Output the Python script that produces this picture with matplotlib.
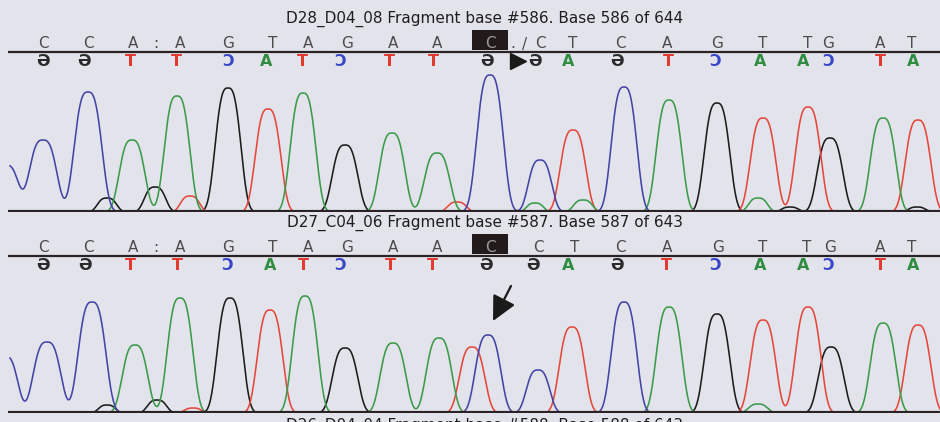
import numpy as np
import matplotlib
matplotlib.use("Agg")
import matplotlib.pyplot as plt
from matplotlib.patches import Rectangle

W, H = 940, 422
BG = "#e3e4eb"

# ---------------- data ----------------
titles = [
    "D28_D04_08 Fragment base #586. Base 586 of 644",
    "D27_C04_06 Fragment base #587. Base 587 of 643",
    "D26_D04_04 Fragment base #588. Base 588 of 643",
]

# base calls (top row) and their scan positions
calls_1 = ["C", "C", "A", ":", "A", "G", "T", "A", "G", "A", "A", "C", ".", "/",
           "C", "T", "C", "A", "G", "T", "T", "G", "A", "T"]
call_pos_1 = [43, 88, 133, 156, 180, 228, 273, 308, 347, 393, 437, 490, 513, 525,
              540, 573, 620, 667, 717, 763, 808, 828, 880, 912]
calls_2 = ["C", "C", "A", ":", "A", "G", "T", "A", "G", "A", "A", "C",
           "C", "T", "C", "A", "G", "T", "T", "G", "A", "T"]
call_pos_2 = [43, 88, 133, 156, 180, 228, 273, 308, 347, 393, 437, 490,
              538, 575, 620, 667, 718, 763, 807, 830, 880, 912]
highlight_1 = 11
highlight_2 = 11

# complementary strand (second row)
comp_1 = list("GGTTCATCTTGGAGTCAACTA")
comp_pos_1 = [43, 84, 130, 176, 228, 266, 302, 340, 389, 433, 487, 535, 568,
              617, 668, 715, 760, 803, 828, 880, 913]
comp_2 = list("GGTTCATCTTGGAGTCAACTA")
comp_pos_2 = [43, 85, 130, 177, 227, 270, 303, 340, 390, 432, 486, 533, 568,
              617, 666, 715, 760, 803, 828, 880, 913]

# trace peaks: centres, heights, widths for each dye channel
# sample 1
c_pos_1 = [6, 43, 88, 490, 540, 624]
c_ht_1 = [47, 72, 120, 137, 52, 125]
c_w_1 = [12, 13, 13, 12.5, 11, 12]
a_pos_1 = [132, 177, 303, 392, 437, 535, 583, 669, 758, 883]
a_ht_1 = [72, 116, 119, 79, 59, 9, 12, 112, 14, 94]
a_w_1 = [12, 12, 12, 12, 12, 8, 9, 12, 9, 12]
g_pos_1 = [107, 155, 228, 345, 717, 790, 830, 917]
g_ht_1 = [14, 25, 124, 67, 109, 5, 74, 5]
g_w_1 = [9, 10, 12, 12, 12, 8, 12, 8]
t_pos_1 = [190, 268, 457, 573, 763, 808, 918]
t_ht_1 = [16, 103, 10, 82, 94, 105, 92]
t_w_1 = [9, 12, 9, 12, 12, 12, 12]

# sample 2
c_pos_2 = [5, 47, 92, 488, 538, 624]
c_ht_2 = [57, 71, 111, 78, 43, 111]
c_w_2 = [12, 13, 13, 12, 11, 12]
a_pos_2 = [135, 180, 305, 393, 439, 669, 758, 883]
a_ht_2 = [68, 115, 117, 70, 75, 106, 9, 90]
a_w_2 = [12, 12, 12, 12, 12, 12, 9, 12]
g_pos_2 = [107, 157, 230, 345, 717, 831]
g_ht_2 = [8, 13, 115, 65, 99, 66]
g_w_2 = [8, 9, 12, 12, 12, 12]
t_pos_2 = [193, 270, 472, 572, 763, 808, 918]
t_ht_2 = [5, 103, 66, 86, 93, 106, 88]
t_w_2 = [8, 12, 12, 12, 12, 12, 12]

# ---------------- style ----------------
TRACE = {"C": "#4444a6", "A": "#3b9a4b", "G": "#1c1c1c", "T": "#e5473d"}
LETTER = {"C": "#3a46c8", "A": "#2f8c40", "G": "#2a2a2a", "T": "#e23a30"}
MIRROR = {"C": "\u0186", "A": "A", "G": "\u04D8", "T": "T"}
DARK = "#2a2224"

fig = plt.figure(figsize=(W / 100, H / 100), dpi=100, facecolor=BG)


def trace(x, centres, heights, widths):
    y = np.zeros_like(x)
    for c, h, w in zip(centres, heights, widths):
        y += h * np.exp(-0.5 * (np.abs(x - c) / w) ** 3)
    return y


def trace_axes(base_px, channels):
    ax = fig.add_axes([0, (H - base_px) / H, 1, 160 / H])
    ax.set_xlim(0, W)
    ax.set_ylim(0, 160)
    ax.axis("off")
    ax.patch.set_alpha(0)
    x = np.linspace(10, W, 2400)
    for base, (cen, hts, wds) in channels:
        ax.plot(x, trace(x, cen, hts, wds), color=TRACE[base], lw=1.15,
                solid_joinstyle="round", zorder=2)
    ax.hlines(0, 8, W, color=DARK, lw=3.0, zorder=5)
    return ax


trace_axes(212, [("G", (g_pos_1, g_ht_1, g_w_1)),
                 ("T", (t_pos_1, t_ht_1, t_w_1)),
                 ("A", (a_pos_1, a_ht_1, a_w_1)),
                 ("C", (c_pos_1, c_ht_1, c_w_1))])
trace_axes(413, [("G", (g_pos_2, g_ht_2, g_w_2)),
                 ("T", (t_pos_2, t_ht_2, t_w_2)),
                 ("A", (a_pos_2, a_ht_2, a_w_2)),
                 ("C", (c_pos_2, c_ht_2, c_w_2))])

# text / annotation layer in pixel units
ax = fig.add_axes([0, 0, 1, 1])
ax.set_xlim(0, W)
ax.set_ylim(H, 0)
ax.axis("off")
ax.patch.set_alpha(0)


def header(top, title, calls, call_pos, hi, comp, comp_pos):
    ax.text(485, top, title, ha="center", va="center", fontsize=11,
            color="#1e1e1e", family="DejaVu Sans")
    row = top + 25
    for i, (ch, px) in enumerate(zip(calls, call_pos)):
        col = "#4c4c4c"
        if i == hi:
            ax.add_patch(Rectangle((px - 18, row - 14), 36, 20,
                                   facecolor="#231a1b", edgecolor="none", zorder=3))
            col = "#9a9a9a"
        ax.text(px, row, ch, ha="center", va="center", fontsize=11,
                color=col, zorder=4)
    ax.hlines(row + 8, 8, W, color=DARK, lw=1.6, zorder=3)
    for ch, px in zip(comp, comp_pos):
        ax.text(px, row + 18, MIRROR[ch], ha="center", va="center", fontsize=11.5,
                fontweight="bold", color=LETTER[ch], zorder=4)


header(19, titles[0], calls_1, call_pos_1, highlight_1, comp_1, comp_pos_1)
header(223, titles[1], calls_2, call_pos_2, highlight_2, comp_2, comp_pos_2)
ax.text(485, 418, titles[2], ha="center", va="top", fontsize=11, color="#1e1e1e")

# marker in the first sample's complement row
ax.plot([518], [61], marker=">", ms=11, color="#1a1a1a", zorder=6)

# arrow pointing at the mixed peak in the second sample
ax.annotate("", xy=(493, 321), xytext=(511, 286),
            arrowprops=dict(arrowstyle="-|>,head_length=1.5,head_width=0.75",
                            lw=1.6, color="#1a1a1a", shrinkA=0, shrinkB=0))

fig.savefig("out.png", dpi=100, facecolor=BG)
